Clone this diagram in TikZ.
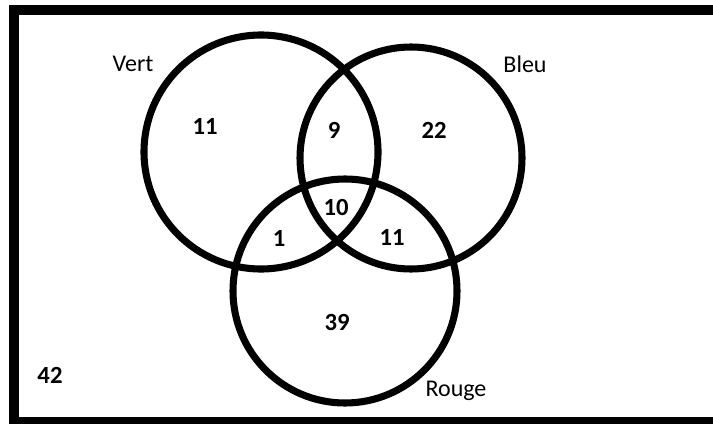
\documentclass[tikz,border=0pt]{standalone}
\usepackage{fontspec}
\setmainfont{Carlito}
\usetikzlibrary{positioning}

\begin{document}
\begin{tikzpicture}[x=0.75pt,y=-0.75pt,font=\fontsize{18}{20}\selectfont,
  setring/.style={line width=5.3pt},
  setname/.style={inner sep=0pt},
  setcount/.style={inner sep=0pt,font=\fontsize{18.5}{20}\selectfont\bfseries}]
\useasboundingbox (0,0) rectangle (713,424);
\clip (0,0) rectangle (713,424);
% frame of the universe, cut on the right
\draw[line width=7.5pt] (13.5,10.5) rectangle (760,421.5);
% the three sets
\coordinate (vert) at (261,152);
\coordinate (bleu) at (411,158);
\coordinate (rouge) at (345,291);
\draw[setring] (vert) circle[radius=117];
\draw[setring] (bleu) circle[radius=111];
\draw[setring] (rouge) circle[radius=112];
\node[setname] (vertlbl) at (133,64) {Vert};
\node[setname] (bleulbl) at (525,64) {Bleu};
\node[setname] (rougelbl) at (456,391) {Rouge};
% counts in each region
\foreach \nm/\px/\py/\val in {
  vo/205/126/11, vb/334/130/9, bo/434/130/22, vbr/336/207/10,
  vr/279/238/1, br/392/237/11, ro/337/322/39, out/50/375/42
} {
  \node[setcount] (n\nm) at (\px,\py) {\val};
}
\end{tikzpicture}
\end{document}
